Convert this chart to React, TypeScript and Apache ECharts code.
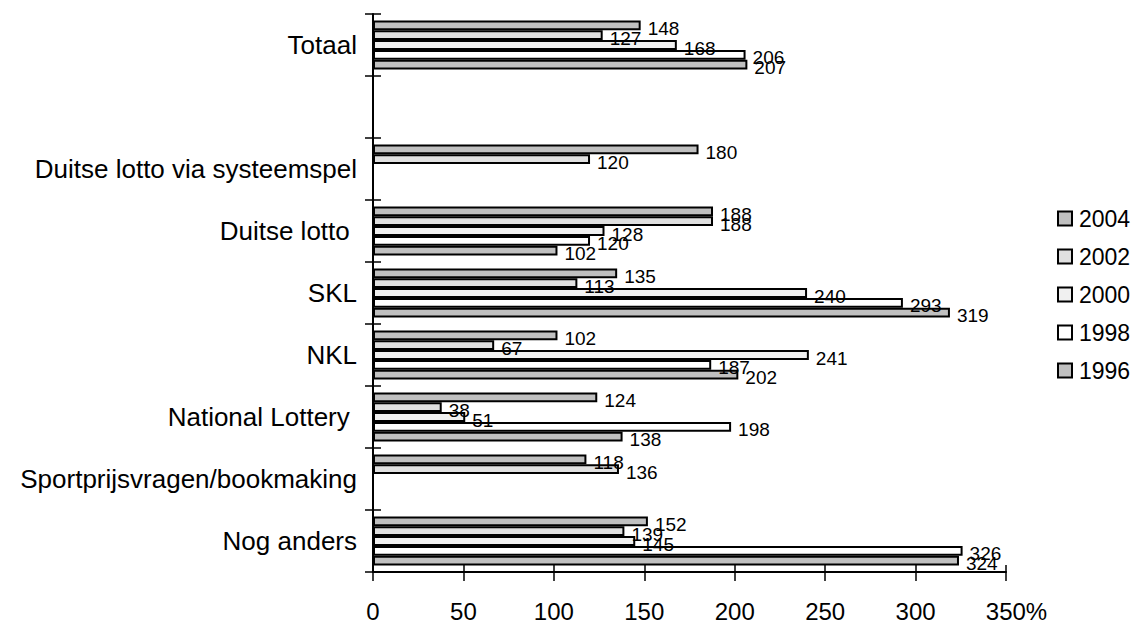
import React, { useEffect, useRef } from "react";
import * as echarts from "echarts";

// Categories from bottom to top (ECharts category y-axis starts at the bottom)
const categories = [
  "Nog anders",
  "Sportprijsvragen/bookmaking",
  "National Lottery ",
  "NKL",
  "SKL",
  "Duitse lotto ",
  "Duitse lotto via systeemspel",
  "",
  "Totaal",
];

// Series order: first series is drawn at the top of each group
const years = ["2004", "2002", "2000", "1998", "1996"];

const v2004 = [152, 118, 124, 102, 135, 188, 180, null, 148];
const v2002 = [139, 136, 38, 67, 113, 188, 120, null, 127];
const v2000 = [145, null, 51, 241, 240, 128, null, null, 168];
const v1998 = [326, null, 198, 187, 293, 120, null, null, 206];
const v1996 = [324, null, 138, 202, 319, 102, null, null, 207];

const seriesValues = [v2004, v2002, v2000, v1998, v1996];
const seriesColors = ["#c0c0c0", "#e0e0e0", "#f0f0f0", "#ffffff", "#c0c0c0"];

const xMin = 0;
const xMax = 350;
const xInterval = 50;

const FONT = "'Liberation Sans', Arial, sans-serif";

export default function App() {
  const ref = useRef<HTMLDivElement>(null);

  useEffect(() => {
    if (!ref.current) return;
    const chart = echarts.init(ref.current, undefined, { renderer: "svg" });

    const series = years.map((y, i) => ({
      name: y,
      type: "bar",
      xAxisIndex: 0,
      yAxisIndex: 0,
      data: seriesValues[i],
      barGap: "0%",
      barCategoryGap: "21%",
      itemStyle: {
        color: seriesColors[i],
        borderColor: "#000",
        borderWidth: 2,
      },
      label: {
        show: true,
        position: "right",
        distance: 7,
        offset: [0, 3],
        color: "#000",
        fontFamily: FONT,
        fontSize: 19,
      },
    }));

    chart.setOption({
      animation: false,
      backgroundColor: "#fff",
      textStyle: { fontFamily: FONT },
      grid: { left: 373, right: 128, top: 14, bottom: 50, containLabel: false },
      legend: {
        data: years,
        orient: "vertical",
        left: 1057,
        top: 207,
        padding: 0,
        itemWidth: 14,
        itemHeight: 14,
        itemGap: 15,
        icon: "rect",
        textStyle: { fontSize: 23, color: "#000", fontFamily: FONT, padding: [0, 0, 0, 2] },
      },
      xAxis: [
        {
          type: "value",
          position: "bottom",
          min: xMin,
          max: xMax,
          interval: xInterval,
          splitLine: { show: false },
          axisLine: { show: true, lineStyle: { color: "#000", width: 2 } },
          axisTick: { show: true, inside: false, length: 9, lineStyle: { color: "#000", width: 1.5 } },
          axisLabel: {
            color: "#000",
            fontSize: 24,
            fontFamily: FONT,
            margin: 27,
            formatter: (v: number) => (v === xMax ? `{n|${v}}{p|%}` : `${v}`),
            rich: {
              n: { fontSize: 24, fontFamily: FONT, color: "#000", padding: [0, 0, 0, 21] },
              p: { fontSize: 24, fontFamily: FONT, color: "#000" },
            },
          },
        },
        {
          type: "value",
          position: "bottom",
          min: xMin,
          max: xMax,
          interval: xInterval,
          splitLine: { show: false },
          axisLine: { show: false },
          axisTick: { show: true, inside: true, length: 7, lineStyle: { color: "#000", width: 1.5 } },
          axisLabel: { show: false },
        },
      ],
      yAxis: [
        {
          type: "category",
          position: "left",
          data: categories,
          axisLine: { show: true, lineStyle: { color: "#000", width: 2 } },
          axisTick: { show: true, inside: false, length: 8, lineStyle: { color: "#000", width: 1.5 } },
          axisLabel: { color: "#000", fontSize: 26, fontFamily: FONT, margin: 16 },
          splitLine: { show: false },
        },
        {
          type: "category",
          position: "left",
          data: categories,
          axisLine: { show: false },
          axisTick: { show: true, inside: true, length: 8, lineStyle: { color: "#000", width: 1.5 } },
          axisLabel: { show: false },
          splitLine: { show: false },
        },
      ],
      series,
    });

    return () => chart.dispose();
  }, []);

  return (
    <div
      ref={ref}
      style={{ position: "fixed", left: 0, top: 0, width: 1134, height: 623, background: "#fff" }}
    />
  );
}
